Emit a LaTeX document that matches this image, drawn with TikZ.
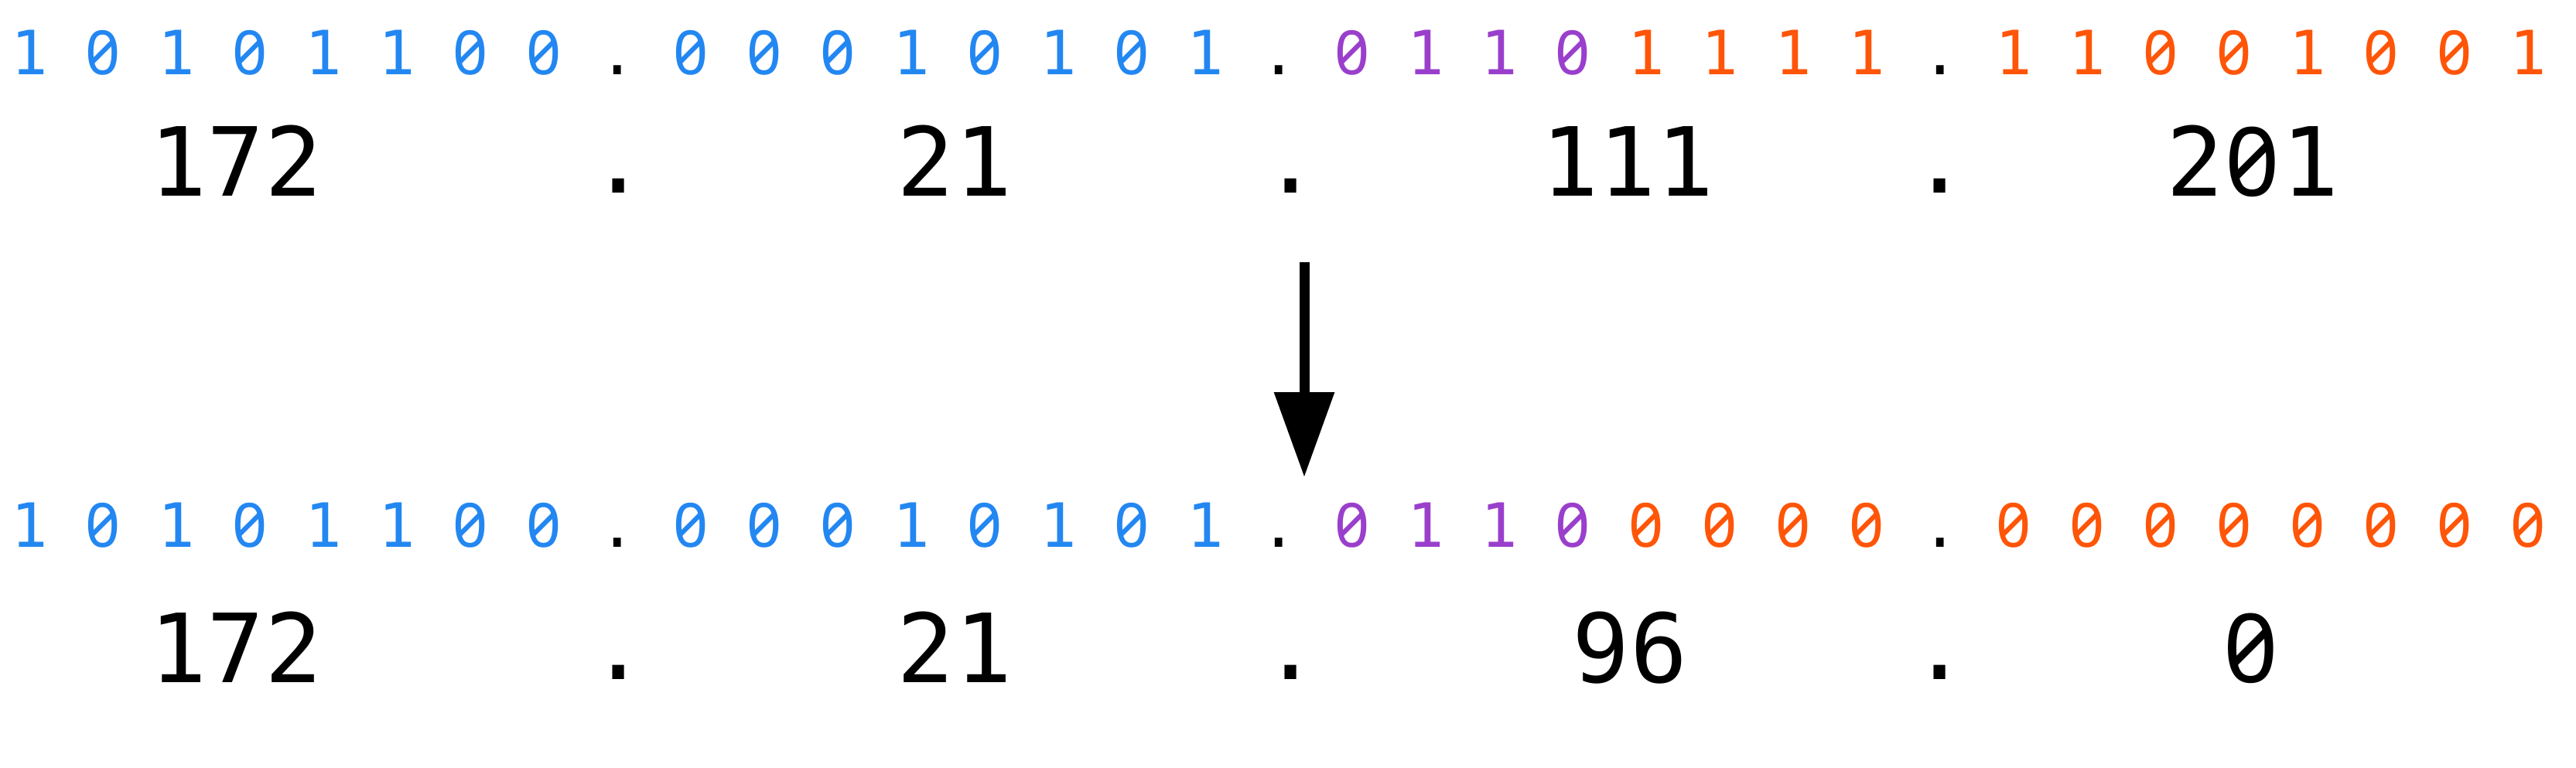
\documentclass[tikz,border=0pt]{standalone}
\usepackage{fontspec}
\usepackage{xcolor}
\usepackage{tikz}
\usetikzlibrary{arrows.meta}
\newfontfamily\bitfont{DejaVu Sans Mono}
\newfontfamily\zerofont[RawFeature=+zero]{Noto Sans}
\definecolor{netblue}{HTML}{2387F2}
\definecolor{subpurple}{HTML}{9A3FCC}
\definecolor{hostorange}{HTML}{FF5508}
\tikzset{
  bits/.style={font=\bitfont\fontsize{22.45}{27}\selectfont\frenchspacing, anchor=base, inner sep=0pt},
  dec/.style={font=\bitfont\fontsize{35.1}{42}\selectfont, anchor=base, inner sep=0pt},
  arr/.style={-{Triangle[length=1.1cm, width=0.75cm]}, line width=3.7pt, draw=black},
}
% slashed zero, one mono cell wide
\newcommand{\Z}{\makebox[0.602em][c]{\zerofont 0}}
\newcommand{\NB}[1]{\textcolor{netblue}{#1}}
\newcommand{\SB}[1]{\textcolor{subpurple}{#1}}
\newcommand{\HB}[1]{\textcolor{hostorange}{#1}}

\begin{document}
\begin{tikzpicture}
\path[fill=white, use as bounding box] (0,0) rectangle (33.3,9.92);

% address before the mask
\node[bits] (B1) at (16.53,8.95) {\NB{1 \Z{} 1 \Z{} 1 1 \Z{} \Z} . \NB{\Z{} \Z{} \Z{} 1 \Z{} 1 \Z{} 1} . \SB{\Z{} 1 1 \Z} \HB{1 1 1 1} . \HB{1 1 \Z{} \Z{} 1 \Z{} \Z{} 1}};
\node[dec] (A1) at (3.05,7.39) {172};
\node[dec] (P1) at (8.00,7.43) {.};
\node[dec] (A2) at (12.34,7.39) {21};
\node[dec] (P2) at (16.69,7.43) {.};
\node[dec] (A3) at (21.04,7.39) {111};
\node[dec] (P3) at (25.08,7.43) {.};
\node[dec] (A4) at (29.12,7.39) {2\Z1};

% network address
\node[bits] (B2) at (16.53,2.85) {\NB{1 \Z{} 1 \Z{} 1 1 \Z{} \Z} . \NB{\Z{} \Z{} \Z{} 1 \Z{} 1 \Z{} 1} . \SB{\Z{} 1 1 \Z} \HB{\Z{} \Z{} \Z{} \Z} . \HB{\Z{} \Z{} \Z{} \Z{} \Z{} \Z{} \Z{} \Z}};
\node[dec] (N1) at (3.05,1.10) {172};
\node[dec] (Q1) at (8.00,1.14) {.};
\node[dec] (N2) at (12.34,1.10) {21};
\node[dec] (Q2) at (16.69,1.14) {.};
\node[dec] (N3) at (21.07,1.10) {96};
\node[dec] (Q3) at (25.08,1.14) {.};
\node[dec] (N4) at (29.10,1.10) {\Z};

\coordinate (top) at (16.86,6.53);
\coordinate (bot) at (16.86,3.75);
\draw[arr] (top) -- (bot);
\end{tikzpicture}
\end{document}
